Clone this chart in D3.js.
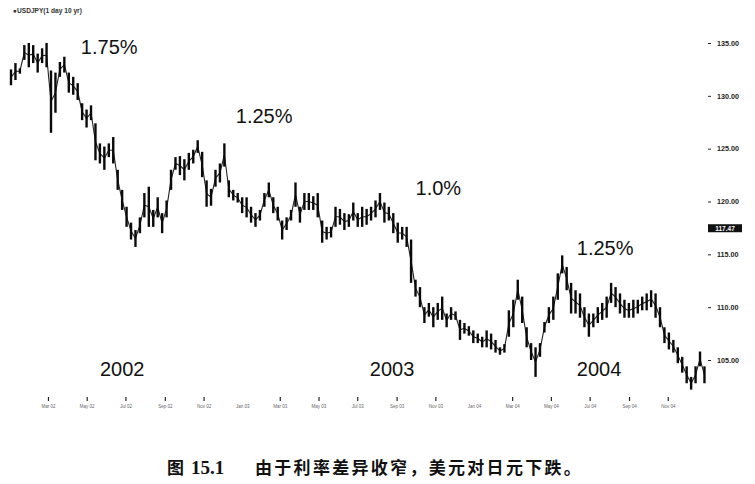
<!DOCTYPE html>
<html><head><meta charset="utf-8">
<script src="https://cdn.jsdelivr.net/npm/d3@7/dist/d3.min.js"></script>
<style>
html,body{margin:0;padding:0;background:#fff;}
svg{display:block;}
</style></head>
<body>
<svg id="chart" width="755" height="484"></svg>
<script>
// ---- data ----
const startDate = "2002-01-01";   // first weekly bar
const weeklyHigh = [
132.5,133.1,132.6,134.8,135.0,134.8,134.0,134.5,135.0,132.4,
132.2,133.2,133.7,132.2,131.8,131.2,129.3,128.7,129.1,127.4,
125.5,125.2,125.5,126.1,123.0,121.1,119.5,118.0,117.3,118.5,
120.8,121.4,119.2,120.4,118.9,120.1,123.0,124.2,124.3,124.0,
124.6,124.9,125.8,124.7,122.0,121.2,123.0,123.6,125.5,122.0,
121.1,120.8,120.4,120.4,119.5,118.9,119.2,120.8,121.8,120.4,
119.5,118.2,118.5,119.2,121.8,119.5,120.8,120.8,120.5,120.8,
118.2,117.6,117.6,119.5,119.3,118.9,118.8,119.9,118.9,119.5,
119.3,119.5,120.1,120.8,119.9,119.5,118.9,118.0,117.6,117.6,
116.4,112.6,111.9,110.0,110.4,110.0,110.4,111.0,109.4,110.0,
109.6,108.8,108.5,108.2,107.8,107.5,107.2,107.8,107.5,106.9,
106.2,106.5,109.7,110.7,112.6,111.0,108.1,106.6,106.2,106.6,
108.6,110.0,111.0,113.2,114.9,113.8,112.3,111.6,111.3,110.0,
109.4,109.4,110.0,110.4,111.0,112.3,111.9,111.3,110.7,110.4,
110.7,110.7,111.0,111.3,111.6,111.3,110.0,108.1,107.6,106.9,
106.2,105.3,104.4,103.4,104.4,105.8,104.4];
const weeklyLow = [
131.0,131.5,132.1,133.4,132.7,133.1,132.2,133.1,132.7,126.5,
128.4,131.8,132.2,130.3,130.1,129.6,127.7,127.0,127.7,123.9,
123.6,123.0,124.2,123.6,121.1,119.2,117.6,116.4,115.7,117.0,
118.5,117.6,117.6,118.5,117.0,118.5,121.1,123.0,122.5,122.0,
123.0,123.6,124.6,122.3,119.5,119.6,121.4,121.8,123.3,120.4,
120.1,119.9,118.9,118.5,118.0,117.6,118.2,119.5,120.4,118.9,
118.2,116.4,117.3,118.2,119.5,118.0,119.2,119.2,119.2,118.5,
116.1,116.4,116.6,117.6,117.8,117.3,117.6,118.2,117.6,117.6,
117.8,118.2,118.5,119.2,118.0,118.2,117.0,116.1,116.4,115.7,
112.3,111.0,110.0,108.5,109.1,108.1,108.8,108.8,108.1,108.8,
108.8,106.9,107.5,107.3,106.6,106.6,106.2,106.2,106.0,105.7,
105.5,105.7,107.2,108.1,110.7,108.5,106.2,105.0,103.4,105.3,
107.6,108.5,108.8,110.7,113.2,111.6,109.4,109.4,109.0,108.1,
107.2,108.1,108.5,108.8,109.0,110.4,110.0,109.4,109.0,109.0,
109.0,109.4,109.7,109.7,110.0,109.0,108.1,106.6,106.0,105.7,
104.7,103.8,102.8,102.2,102.8,104.4,102.8];
const priceTicks = [105,110,115,120,125,130,135];
const lastPriceTag = 117.47;
const timeTicks = ["2002-03-01","2002-05-01","2002-07-01","2002-09-01","2002-11-01","2003-01-01",
  "2003-03-01","2003-05-01","2003-07-01","2003-09-01","2003-11-01","2004-01-01",
  "2004-03-01","2004-05-01","2004-07-01","2004-09-01","2004-11-01"];
const timeTickLabels = ["Mar 02","May 02","Jul 02","Sep 02","Nov 02","Jan 03",
  "Mar 03","May 03","Jul 03","Sep 03","Nov 03","Jan 04",
  "Mar 04","May 04","Jul 04","Sep 04","Nov 04"];
const rateNotes = [
  {text:"1.75%", date:"2002-04-21", price:134.0},
  {text:"1.25%", date:"2002-12-21", price:127.4},
  {text:"1.0%",  date:"2003-09-30", price:120.6},
  {text:"1.25%", date:"2004-06-10", price:114.95}];
const yearNotes = [
  {text:"2002", date:"2002-05-21"},
  {text:"2003", date:"2003-07-20"},
  {text:"2004", date:"2004-06-10"}];
const title = "●USDJPY(1 day 10 yr)";
const captionText = "由于利率差异收窄，美元对日元下跌。";

// ---- drawing ----
const svg = d3.select("#chart");
const parse = d3.timeParse("%Y-%m-%d");
const t0 = parse(startDate);
const bars = weeklyHigh.map((h,i)=>({date:d3.timeDay.offset(t0, 7*i), hi:h, lo:weeklyLow[i]}));

const x = d3.scaleTime().domain([parse("2002-01-01"), parse("2005-01-01")]).range([11, 707]);
const y = d3.scaleLinear().domain([135, 105]).range([43, 360]);

// header
svg.append("text").attr("x",13).attr("y",13).text(title)
  .attr("font-family","Liberation Sans, Arial, sans-serif").attr("font-size",6.6)
  .attr("font-weight","bold").attr("fill","#333");

// connecting line
const mid = d3.line().x(d=>x(d.date)).y(d=>y((d.hi+d.lo)/2));
svg.append("path").datum(bars).attr("d",mid).attr("fill","none")
  .attr("stroke","#222").attr("stroke-width",1.1);

// high-low bars
svg.append("g").selectAll("line").data(bars).join("line")
  .attr("x1",d=>x(d.date)).attr("x2",d=>x(d.date))
  .attr("y1",d=>y(d.hi)).attr("y2",d=>y(d.lo))
  .attr("stroke","#0a0a0a").attr("stroke-width",2.4);

// right price axis
const yAxis = d3.axisRight(y).tickValues(priceTicks).tickFormat(d3.format(".2f"))
  .tickSize(3).tickPadding(6);
const ga = svg.append("g").attr("transform","translate(708,0)").call(yAxis);
ga.select(".domain").remove();
ga.selectAll(".tick line").attr("stroke","#222").attr("stroke-width",1);
ga.selectAll(".tick text").attr("font-family","Liberation Sans, Arial, sans-serif")
  .attr("font-size",7.2).attr("font-weight","bold").attr("fill","#222");

// last price tag
const tagY = y(lastPriceTag);
svg.append("rect").attr("x",708).attr("y",tagY-4).attr("width",34).attr("height",8).attr("fill","#111");
svg.append("text").attr("x",725).attr("y",tagY+2.3).attr("text-anchor","middle")
  .attr("font-family","Liberation Sans, Arial, sans-serif").attr("font-size",6.5)
  .attr("font-weight","bold").attr("fill","#fff").text(d3.format(".2f")(lastPriceTag));

// bottom time axis (tick marks + tiny labels)
const tg = svg.append("g").selectAll("g").data(timeTicks).join("g")
  .attr("transform",d=>`translate(${x(parse(d))},0)`);
tg.filter(d=>!d.endsWith("-01-01")).append("line")
  .attr("y1",397).attr("y2",401).attr("stroke","#222").attr("stroke-width",1.2);
tg.append("text").attr("y",408).attr("text-anchor","middle")
  .attr("font-family","Liberation Sans, Arial, sans-serif").attr("font-size",4.5)
  .attr("fill","#666").text((d,i)=>timeTickLabels[i]);

// annotations
svg.append("g").selectAll("text").data(rateNotes).join("text")
  .attr("x",d=>x(parse(d.date))).attr("y",d=>y(d.price))
  .attr("font-family","Liberation Sans, Arial, sans-serif").attr("font-size",20)
  .attr("fill","#111").text(d=>d.text);
svg.append("g").selectAll("text").data(yearNotes).join("text")
  .attr("x",d=>x(parse(d.date))).attr("y",376)
  .attr("font-family","Liberation Sans, Arial, sans-serif").attr("font-size",20)
  .attr("fill","#111").text(d=>d.text);

// caption
const cap = svg.append("text").attr("y",474)
  .attr("font-family","'Noto Sans CJK SC', sans-serif").attr("font-size",17)
  .attr("font-weight","bold").attr("fill","#111");
cap.append("tspan").attr("x",167).text("图");
cap.append("tspan").attr("x",191).attr("font-family","Liberation Serif, serif")
  .attr("font-size",19).text("15.1");
cap.append("tspan").attr("x",255).attr("letter-spacing",2.3).text(captionText);
</script>
</body></html>
